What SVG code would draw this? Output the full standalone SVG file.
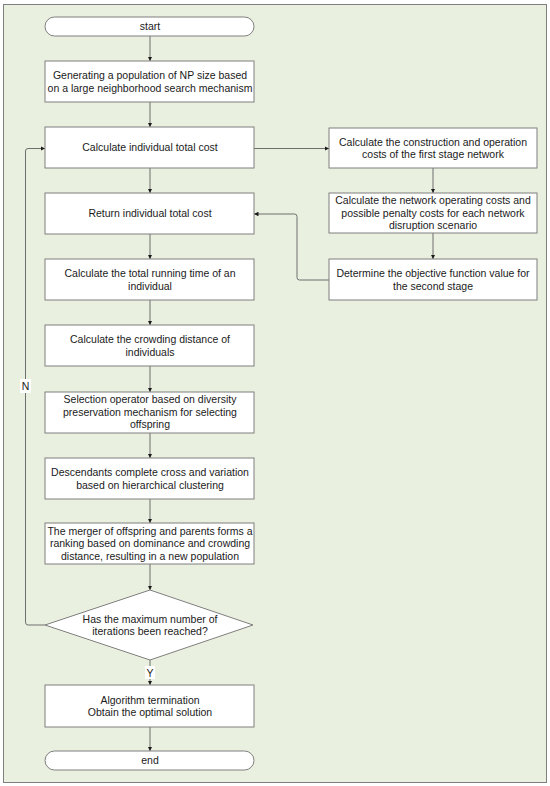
<svg xmlns="http://www.w3.org/2000/svg" width="550" height="786" viewBox="0 0 550 786">
<style>
.box{fill:#ffffff;stroke:#7f7f7f;stroke-width:1}
.t{font-family:"Liberation Sans",Arial,sans-serif;font-size:10.5px;fill:#1a1a1a;text-anchor:middle}
.c{fill:none;stroke:#6f6f6f;stroke-width:1}
.lbl{fill:#ffffff}
</style>
<defs>
<marker id="ah" viewBox="0 0 6 6" refX="6" refY="3" markerWidth="4.5" markerHeight="4.5" markerUnits="userSpaceOnUse" orient="auto">
<path d="M0,0 L6,3 L0,6 Z" fill="#1a1a1a"/>
</marker>
</defs>
<rect x="3.5" y="4.5" width="543" height="778" fill="#e9f0df" stroke="#7f7f7f" stroke-width="1"/>

<g id="connectors">
<path class="c" d="M150,36 V61" marker-end="url(#ah)"/>
<path class="c" d="M150,102 V127" marker-end="url(#ah)"/>
<path class="c" d="M150,168 V193" marker-end="url(#ah)"/>
<path class="c" d="M150,234 V259" marker-end="url(#ah)"/>
<path class="c" d="M150,300 V325" marker-end="url(#ah)"/>
<path class="c" d="M150,366 V392" marker-end="url(#ah)"/>
<path class="c" d="M150,433 V458" marker-end="url(#ah)"/>
<path class="c" d="M150,499 V523" marker-end="url(#ah)"/>
<path class="c" d="M150,564 V590" marker-end="url(#ah)"/>
<path class="c" d="M150,660 V685" marker-end="url(#ah)"/>
<path class="c" d="M150,727 V751" marker-end="url(#ah)"/>
<path class="c" d="M45,625 H28 Q25.5,625 25.5,622 V151 Q25.5,148.5 28,148.5 H45" marker-end="url(#ah)"/>
<path class="c" d="M254,148.5 H329" marker-end="url(#ah)"/>
<path class="c" d="M433,168 V193" marker-end="url(#ah)"/>
<path class="c" d="M433,233 V259" marker-end="url(#ah)"/>
<path class="c" d="M329,280 H299.5 Q297,280 297,277.5 V216.5 Q297,214 294.5,214 H254" marker-end="url(#ah)"/>
<rect class="lbl" x="20" y="379" width="11" height="14"/>
<text class="t" x="25.5" y="389.5">N</text>
<rect class="lbl" x="145" y="666" width="10" height="13"/>
<text class="t" x="150" y="676.5">Y</text>
</g>

<g id="start">
<rect class="box" x="45" y="17" width="209" height="19" rx="9.5"/>
<text class="t" x="150" y="30.3">start</text>
</g>
<g id="generate">
<rect class="box" x="45" y="61" width="209" height="41"/>
<text class="t" x="150" y="79">Generating a population of NP size based</text>
<text class="t" x="150" y="91.7">on a large neighborhood search mechanism</text>
</g>
<g id="calc-cost">
<rect class="box" x="45" y="127" width="209" height="41"/>
<text class="t" x="150" y="151.3">Calculate individual total cost</text>
</g>
<g id="return-cost">
<rect class="box" x="45" y="193" width="209" height="41"/>
<text class="t" x="150" y="217.3">Return individual total cost</text>
</g>
<g id="running-time">
<rect class="box" x="45" y="259" width="209" height="41"/>
<text class="t" x="150" y="277">Calculate the total running time of an</text>
<text class="t" x="150" y="289.5">individual</text>
</g>
<g id="crowding">
<rect class="box" x="45" y="325" width="209" height="41"/>
<text class="t" x="150" y="343">Calculate the crowding distance of</text>
<text class="t" x="150" y="355.5">individuals</text>
</g>
<g id="selection">
<rect class="box" x="45" y="392" width="209" height="41"/>
<text class="t" x="150" y="403.3">Selection operator based on diversity</text>
<text class="t" x="150" y="415.8">preservation mechanism for selecting</text>
<text class="t" x="150" y="428.3">offspring</text>
</g>
<g id="cross">
<rect class="box" x="45" y="458" width="209" height="41"/>
<text class="t" x="150" y="476">Descendants complete cross and variation</text>
<text class="t" x="150" y="488.5">based on hierarchical clustering</text>
</g>
<g id="merger">
<rect class="box" x="45" y="523" width="209" height="41"/>
<text class="t" x="150" y="534.6">The merger of offspring and parents forms a</text>
<text class="t" x="150" y="547.1">ranking based on dominance and crowding</text>
<text class="t" x="150" y="559.6">distance, resulting in a new population</text>
</g>
<g id="decision">
<path class="box" d="M150,590 L253,625 L150,660 L45,625 Z"/>
<text class="t" x="150" y="622.5">Has the maximum number of</text>
<text class="t" x="150" y="635">iterations been reached?</text>
</g>
<g id="termination">
<rect class="box" x="45" y="685" width="209" height="42"/>
<text class="t" x="150" y="703.5">Algorithm termination</text>
<text class="t" x="150" y="716">Obtain the optimal solution</text>
</g>
<g id="end">
<rect class="box" x="45" y="751" width="209" height="19" rx="9.5"/>
<text class="t" x="150" y="764.3">end</text>
</g>
<g id="first-stage">
<rect class="box" x="329" y="128" width="208" height="40"/>
<text class="t" x="433" y="145.5">Calculate the construction and operation</text>
<text class="t" x="433" y="158">costs of the first stage network</text>
</g>
<g id="scenario">
<rect class="box" x="329" y="193" width="208" height="40"/>
<text class="t" x="433" y="204.3">Calculate the network operating costs and</text>
<text class="t" x="433" y="216.8">possible penalty costs for each network</text>
<text class="t" x="433" y="229.3">disruption scenario</text>
</g>
<g id="second-stage">
<rect class="box" x="329" y="259" width="208" height="41"/>
<text class="t" x="433" y="277">Determine the objective function value for</text>
<text class="t" x="433" y="289.5">the second stage</text>
</g>
</svg>
